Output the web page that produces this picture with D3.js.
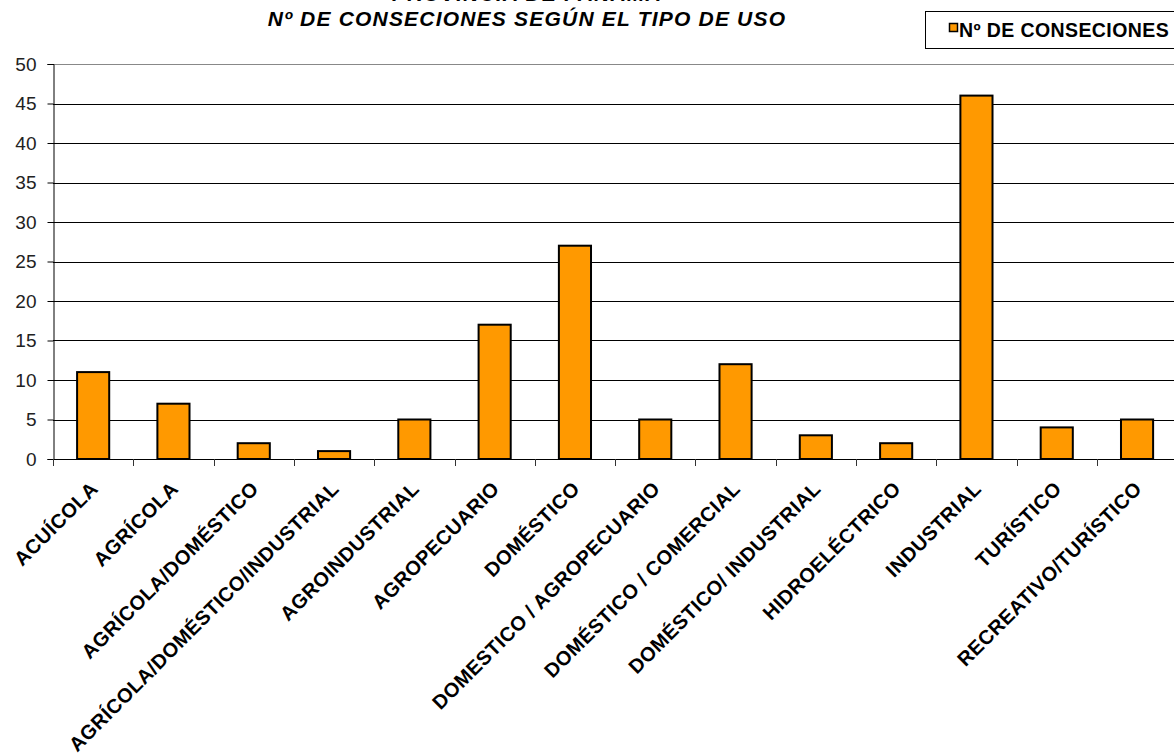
<!DOCTYPE html>
<html>
<head>
<meta charset="utf-8">
<script src="https://cdn.jsdelivr.net/npm/d3@7"></script>
<style>
  html, body { margin: 0; padding: 0; background: #fff; overflow: hidden; }
  svg { display: block; font-family: "Liberation Sans", Arial, sans-serif; }
</style>
</head>
<body>
<svg id="chart" width="1174" height="756"></svg>
<script>
// Uso del agua: número de concesiones por tipo de uso
const categories = [
  "ACUÍCOLA", "AGRÍCOLA", "AGRÍCOLA/DOMÉSTICO", "AGRÍCOLA/DOMÉSTICO/INDUSTRIAL",
  "AGROINDUSTRIAL", "AGROPECUARIO", "DOMÉSTICO", "DOMESTICO / AGROPECUARIO",
  "DOMÉSTICO / COMERCIAL", "DOMÉSTICO/ INDUSTRIAL", "HIDROELÉCTRICO",
  "INDUSTRIAL", "TURÍSTICO", "RECREATIVO/TURÍSTICO"
];
const concesiones = [11, 7, 2, 1, 5, 17, 27, 5, 12, 3, 2, 46, 4, 5];
const yTicks = [0, 5, 10, 15, 20, 25, 30, 35, 40, 45, 50];
const seriesName = "Nº DE CONSECIONES";
const titleLines = ["PROVINCIA DE PANAMÁ", "Nº DE CONSECIONES SEGÚN EL TIPO DE USO"];

const svg = d3.select("#chart");
const plot = { left: 53, top: 64, bottom: 459, right: 53 + 80.3 * categories.length };

const x = d3.scaleBand()
  .domain(categories)
  .range([plot.left, plot.right])
  .paddingInner(0.6)
  .paddingOuter(0.3);

const y = d3.scaleLinear().domain([0, 50]).range([plot.bottom, plot.top]);

// Title (first line runs off the top edge)
svg.append("g")
  .selectAll("text")
  .data(titleLines)
  .join("text")
  .attr("x", 527)
  .attr("y", (d, i) => 1 + i * 25)
  .attr("text-anchor", "middle")
  .attr("font-size", 21)
  .attr("letter-spacing", 1.2)
  .attr("font-weight", "bold")
  .attr("font-style", "italic")
  .attr("fill", "#000")
  .text(d => d);

// Horizontal gridlines
svg.append("g")
  .selectAll("line")
  .data(yTicks.filter(t => t > 0))
  .join("line")
  .attr("x1", plot.left).attr("x2", plot.right)
  .attr("y1", d => Math.round(y(d)) + 0.5).attr("y2", d => Math.round(y(d)) + 0.5)
  .attr("stroke", d => d === 50 ? "#888" : "#000")
  .attr("stroke-width", 1);

// Bars
svg.append("g")
  .selectAll("rect")
  .data(concesiones)
  .join("rect")
  .attr("x", (d, i) => x(categories[i]))
  .attr("y", d => y(d))
  .attr("width", x.bandwidth())
  .attr("height", d => y(0) - y(d))
  .attr("fill", "#FF9900")
  .attr("stroke", "#000")
  .attr("stroke-width", 2);

// Y axis
const yAxis = d3.axisLeft(y).tickValues(yTicks).tickSize(6).tickPadding(11);
const gy = svg.append("g")
  .attr("transform", `translate(${plot.left + 0.5},0)`)
  .call(yAxis);
gy.select(".domain").attr("stroke", "#000");
gy.selectAll(".tick line").attr("stroke", "#000");
gy.selectAll(".tick text")
  .attr("font-size", 19)
  .attr("fill", "#222")
  .attr("font-family", "Liberation Sans, Arial, sans-serif");

// X axis: ticks at category boundaries
const step = x.step();
const boundaries = d3.range(categories.length + 1).map(i => plot.left + i * step);
svg.append("line")
  .attr("x1", plot.left).attr("x2", plot.right)
  .attr("y1", plot.bottom + 0.5).attr("y2", plot.bottom + 0.5)
  .attr("stroke", "#000");
svg.append("g")
  .selectAll("line")
  .data(boundaries)
  .join("line")
  .attr("x1", d => Math.round(d) + 0.5).attr("x2", d => Math.round(d) + 0.5)
  .attr("y1", plot.bottom).attr("y2", plot.bottom + 7)
  .attr("stroke", "#333");

// Rotated category labels
svg.append("g")
  .selectAll("text")
  .data(categories)
  .join("text")
  .attr("transform", d => `translate(${x(d) + x.bandwidth() / 2 + 6},${plot.bottom + 31}) rotate(-45)`)
  .attr("text-anchor", "end")
  .attr("font-size", 20)
  .attr("letter-spacing", 0.4)
  .attr("font-weight", "bold")
  .attr("fill", "#000")
  .text(d => d);

// Legend
const legend = svg.append("g").attr("transform", "translate(925,11)");
legend.append("rect")
  .attr("x", 0.5).attr("y", 0.5)
  .attr("width", 280).attr("height", 37)
  .attr("fill", "#fff")
  .attr("stroke", "#000");
legend.append("rect")
  .attr("x", 24.5).attr("y", 12.5)
  .attr("width", 8).attr("height", 8)
  .attr("fill", "#FF9900")
  .attr("stroke", "#000")
  .attr("stroke-width", 1.5);
legend.append("text")
  .attr("x", 34).attr("y", 25.5)
  .attr("font-size", 19.5)
  .attr("letter-spacing", 0.4)
  .attr("font-weight", "bold")
  .text(seriesName);
</script>
</body>
</html>
